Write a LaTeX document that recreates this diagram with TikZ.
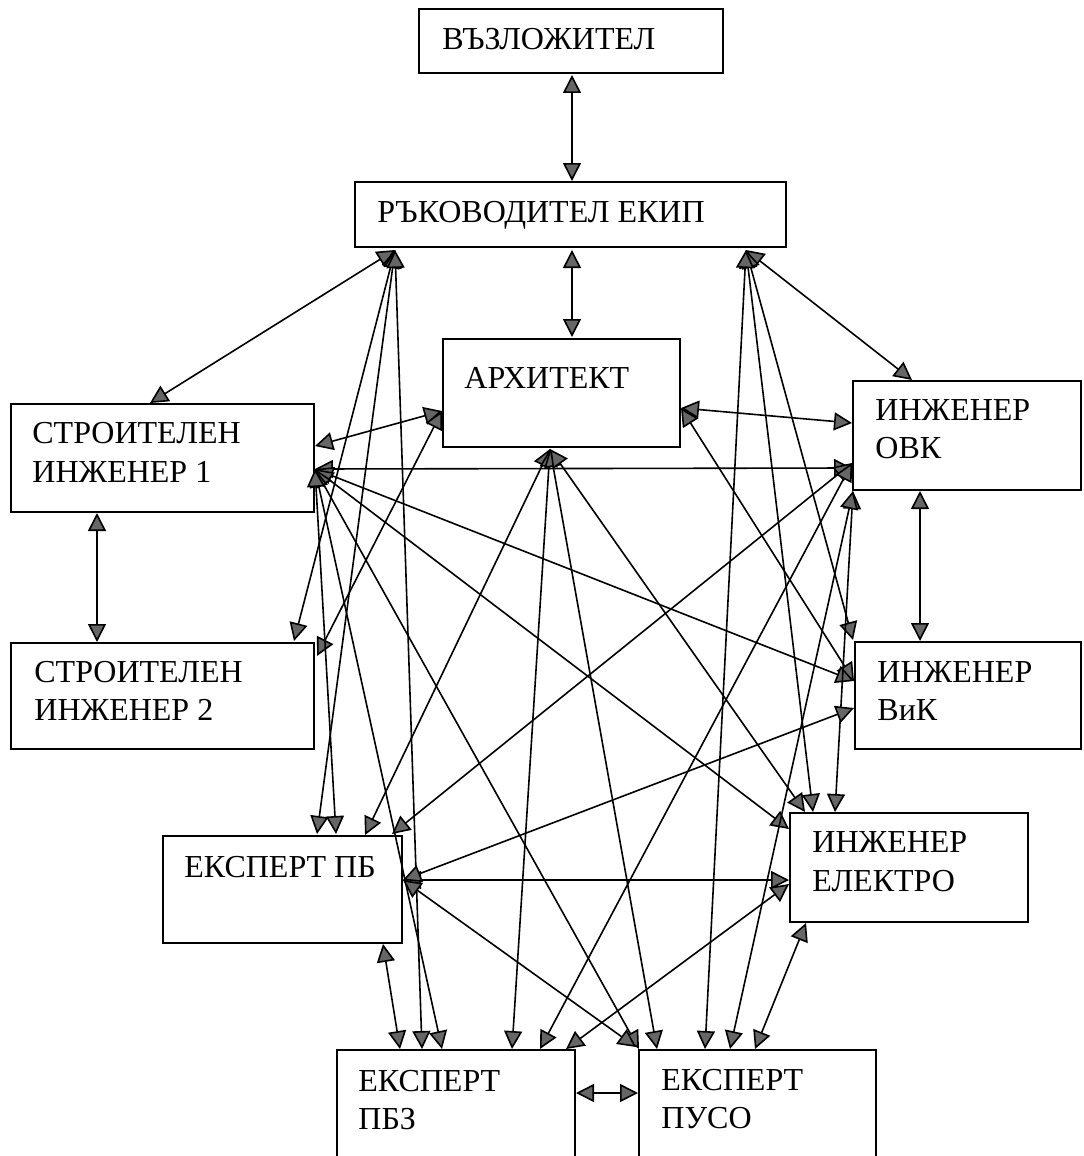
\documentclass[tikz,border=0pt]{standalone}
\usepackage{fontspec}
\setmainfont{Liberation Serif}
\usetikzlibrary{arrows.meta,fit}
\begin{document}
\begin{tikzpicture}[x=0.5pt,y=-0.5pt,
  box/.style={draw, line width=0.9pt, inner sep=0pt},
  lbl/.style={anchor=base west, inner sep=0pt, font=\fontsize{16}{19}\selectfont},
  bi/.style={<->, line width=0.8pt, >={Triangle[length=9pt,width=9pt,fill=black!60]}}]
\useasboundingbox (0,0) rectangle (1083,1156);

% boxes
\node[box, fit={(419,9) (723,73)}] (voz) {};
\node[box, fit={(355,182) (786,247)}] (ruk) {};
\node[box, fit={(443,339) (680,447)}] (arh) {};
\node[box, fit={(11,404) (314,512)}] (s1) {};
\node[box, fit={(11,643) (314,749)}] (s2) {};
\node[box, fit={(853,381) (1081,490)}] (ovk) {};
\node[box, fit={(855,642) (1081,749)}] (vik) {};
\node[box, fit={(790,813) (1028,922)}] (el) {};
\node[box, fit={(163,836) (402,943)}] (pb) {};
\node[box, fit={(337,1050) (575,1175)}] (pbz) {};
\node[box, fit={(639,1050) (876,1175)}] (puso) {};

% texts
\node[lbl] (t-voz) at (442,50) {ВЪЗЛОЖИТЕЛ};
\node[lbl] (t-ruk) at (377,222) {РЪКОВОДИТЕЛ ЕКИП};
\node[lbl] (t-arh) at (464,388) {АРХИТЕКТ};
\node[lbl] (t-s1a) at (32,443) {СТРОИТЕЛЕН};
\node[lbl] (t-s1b) at (32,482) {ИНЖЕНЕР 1};
\node[lbl] (t-s2a) at (34,682) {СТРОИТЕЛЕН};
\node[lbl] (t-s2b) at (34,720) {ИНЖЕНЕР 2};
\node[lbl] (t-ovka) at (875,420) {ИНЖЕНЕР};
\node[lbl] (t-ovkb) at (875,458) {ОВК};
\node[lbl] (t-vika) at (877,682) {ИНЖЕНЕР};
\node[lbl] (t-vikb) at (877,720) {ВиК};
\node[lbl] (t-ela) at (812,852) {ИНЖЕНЕР};
\node[lbl] (t-elb) at (812,891) {ЕЛЕКТРО};
\node[lbl] (t-pb) at (184,877) {ЕКСПЕРТ ПБ};
\node[lbl] (t-pbza) at (358,1091) {ЕКСПЕРТ};
\node[lbl] (t-pbzb) at (358,1129) {ПБЗ};
\node[lbl] (t-pusoa) at (661,1090) {ЕКСПЕРТ};
\node[lbl] (t-pusob) at (661,1128) {ПУСО};

% connector ends
\coordinate (vozB) at (572,75);
\coordinate (rukT) at (572,181);
\coordinate (rukB) at (572,250);
\coordinate (arhT) at (572,337);
\coordinate (rBL) at (395,250);
\coordinate (rBR) at (746,250);
\coordinate (s1T) at (150,403);
\coordinate (s2TR) at (294,641);
\coordinate (pbT1) at (317,834);
\coordinate (pbT2) at (336,834);
\coordinate (pbT3) at (365,835);
\coordinate (pbT4) at (392,834);
\coordinate (pbzT1) at (400,1049);
\coordinate (pbzT2) at (422,1049);
\coordinate (pbzT3) at (442,1049);
\coordinate (pbzT4) at (512,1049);
\coordinate (pbzT5) at (540,1049);
\coordinate (pbzT6) at (566,1049);
\coordinate (pusoC1) at (639,1049);
\coordinate (pusoC2) at (636,1047);
\coordinate (pusoT2) at (657,1049);
\coordinate (pusoT3) at (705,1049);
\coordinate (pusoT4) at (730,1049);
\coordinate (pusoT5) at (755,1049);
\coordinate (ovkT) at (912,380);
\coordinate (ovkL1) at (852,423);
\coordinate (ovkL2) at (852,468);
\coordinate (ovkL3) at (852,463);
\coordinate (ovkB) at (920,491);
\coordinate (ovkBL) at (853,491);
\coordinate (vikTL) at (853,640);
\coordinate (vikT) at (920,641);
\coordinate (vikL1) at (854,681);
\coordinate (vikL2) at (854,708);
\coordinate (elT0) at (805,812);
\coordinate (elT1) at (813,812);
\coordinate (elT2) at (835,812);
\coordinate (elL1) at (789,829);
\coordinate (elL2) at (789,880);
\coordinate (elL3) at (789,884);
\coordinate (elBL) at (806,923);
\coordinate (arhL) at (442,411);
\coordinate (arhR) at (681,408);
\coordinate (arhB) at (550,449);
\coordinate (s1RT) at (315,446);
\coordinate (s1R) at (315,469);
\coordinate (s1B) at (97,513);
\coordinate (s2T) at (97,642);
\coordinate (s2C) at (317,656);
\coordinate (pbR) at (403,880);
\coordinate (pbB) at (383,944);
\coordinate (pbzR) at (576,1093);
\coordinate (pusoL) at (638,1093);

% connectors
\draw[bi] (vozB) -- (rukT);
\draw[bi] (rukB) -- (arhT);
\draw[bi] (rBL) -- (s1T);
\draw[bi] (rBL) -- (s2TR);
\draw[bi] (rBL) -- (pbT1);
\draw[bi] (rBL) -- (pbzT2);
\draw[bi] (rBR) -- (ovkT);
\draw[bi] (rBR) -- (elT1);
\draw[bi] (rBR) -- (vikTL);
\draw[bi] (rBR) -- (pusoT3);
\draw[bi] (arhL) -- (s1RT);
\draw[bi] (arhL) -- (s2C);
\draw[bi] (arhR) -- (ovkL1);
\draw[bi] (arhR) -- (vikL1);
\draw[bi] (arhB) -- (pbT3);
\draw[bi] (arhB) -- (pbzT4);
\draw[bi] (arhB) -- (pusoT2);
\draw[bi] (arhB) -- (elT0);
\draw[bi] (s1R) -- (ovkL2);
\draw[bi] (s1R) -- (vikL1);
\draw[bi] (s1R) -- (elL1);
\draw[bi] (s1R) -- (pusoC1);
\draw[bi] (s1R) -- (pbzT3);
\draw[bi] (s1R) -- (pbT2);
\draw[bi] (s1B) -- (s2T);
\draw[bi] (ovkB) -- (vikT);
\draw[bi] (ovkL3) -- (pbT4);
\draw[bi] (ovkL3) -- (pbzT5);
\draw[bi] (ovkBL) -- (elT2);
\draw[bi] (ovkBL) -- (pusoT4);
\draw[bi] (pbR) -- (elL2);
\draw[bi] (pbR) -- (vikL2);
\draw[bi] (pbR) -- (pusoC2);
\draw[bi] (pbB) -- (pbzT1);
\draw[bi] (elL3) -- (pbzT6);
\draw[bi] (elBL) -- (pusoT5);
\draw[bi] (pbzR) -- (pusoL);
\end{tikzpicture}
\end{document}
